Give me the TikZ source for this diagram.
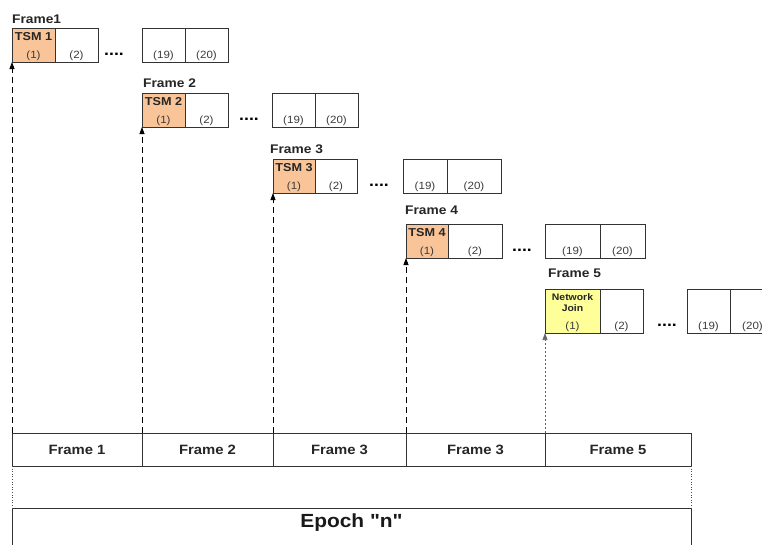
\documentclass[tikz,border=0pt]{standalone}
\usepackage{fontspec}
\setmainfont[FakeStretch=1.1]{Liberation Sans}
\newfontfamily\epochfont[FakeStretch=1.1, Ligatures=TeXOff]{Liberation Sans}
\usetikzlibrary{arrows.meta}
\definecolor{tsm}{RGB}{249,196,152}
\definecolor{join}{RGB}{255,255,153}
\definecolor{numgrey}{RGB}{60,60,60}
\begin{document}
\begin{tikzpicture}[x=1pt,y=-1pt,
  cell/.style={draw=black!80, line width=0.8pt, inner sep=0pt, outer sep=0pt, minimum height=34pt, anchor=north west},
  tallcell/.style={cell, minimum height=44pt},
  num/.style={font=\fontsize{10.5}{11}\selectfont, text=numgrey, inner sep=0pt, anchor=base},
  tsmlab/.style={font=\bfseries\fontsize{11.5}{12}\selectfont, text=black!85, inner sep=0pt, anchor=north},
  joinlab/.style={font=\bfseries\fontsize{9.5}{11.5}\selectfont, text=black!85, inner sep=0pt, anchor=north, align=center},
  flab/.style={font=\bfseries\fontsize{12.5}{13}\selectfont, text=black!85, inner sep=0pt, anchor=base west},
  dotsep/.style={font=\bfseries\fontsize{16}{16}\selectfont, inner sep=0pt, anchor=base},
  barcell/.style={draw=black!80, line width=0.8pt, inner sep=0pt, outer sep=0pt, minimum height=33pt, anchor=north west,
    font=\bfseries\fontsize{13.5}{14}\selectfont, text=black!85},
  uparrow/.style={line width=0.8pt, dash pattern=on 6pt off 4pt, -{Triangle[length=7pt,width=5pt]}},
  uparrowlight/.style={line width=0.6pt, draw=black!60, dash pattern=on 2pt off 2pt, -{Triangle[length=7pt,width=5pt]}}
]
\clip (0,0) rectangle (762,544);
\fill[white] (0,0) rectangle (762,544);

% ---- Frame 1 ----
\node[flab] (l1) at (12,23) {Frame1};
\node[cell, fill=tsm, minimum width=43pt] (r1a) at (12,28) {};
\node[cell, minimum width=43pt] (r1b) at (r1a.north east) {};
\node[dotsep] (r1d) at (114,55) {....};
\node[cell, minimum width=43pt] (r1s) at (142,28) {};
\node[cell, minimum width=43pt] (r1t) at (r1s.north east) {};
\node[tsmlab] at ([yshift=-4pt]r1a.north) {TSM 1};
\node[num] at ([yshift=4pt]r1a.south) {(1)};
\node[num] at ([yshift=4pt]r1b.south) {(2)};
\node[num] at ([yshift=4pt]r1s.south) {(19)};
\node[num] at ([yshift=4pt]r1t.south) {(20)};

% ---- Frame 2 ----
\node[flab] (l2) at (143,87) {Frame 2};
\node[cell, fill=tsm, minimum width=43pt] (r2a) at (142,93) {};
\node[cell, minimum width=43pt] (r2b) at (r2a.north east) {};
\node[dotsep] (r2d) at (249,120) {....};
\node[cell, minimum width=43pt] (r2s) at (272,93) {};
\node[cell, minimum width=43pt] (r2t) at (r2s.north east) {};
\node[tsmlab] at ([yshift=-4pt]r2a.north) {TSM 2};
\node[num] at ([yshift=4pt]r2a.south) {(1)};
\node[num] at ([yshift=4pt]r2b.south) {(2)};
\node[num] at ([yshift=4pt]r2s.south) {(19)};
\node[num] at ([yshift=4pt]r2t.south) {(20)};

% ---- Frame 3 ----
\node[flab] (l3) at (270,153) {Frame 3};
\node[cell, fill=tsm, minimum width=42pt] (r3a) at (273,159) {};
\node[cell, minimum width=42pt] (r3b) at (r3a.north east) {};
\node[dotsep] (r3d) at (379,186) {....};
\node[cell, minimum width=44pt] (r3s) at (403,159) {};
\node[cell, minimum width=54pt] (r3t) at (r3s.north east) {};
\node[tsmlab] at ([yshift=-4pt]r3a.north) {TSM 3};
\node[num] at ([yshift=4pt]r3a.south) {(1)};
\node[num] at ([yshift=4pt]r3b.south) {(2)};
\node[num] at ([yshift=4pt]r3s.south) {(19)};
\node[num] at ([yshift=4pt]r3t.south) {(20)};

% ---- Frame 4 ----
\node[flab] (l4) at (405,214) {Frame 4};
\node[cell, fill=tsm, minimum width=42pt] (r4a) at (406,224) {};
\node[cell, minimum width=54pt] (r4b) at (r4a.north east) {};
\node[dotsep] (r4d) at (522,251) {....};
\node[cell, minimum width=55pt] (r4s) at (545,224) {};
\node[cell, minimum width=45pt] (r4t) at (r4s.north east) {};
\node[tsmlab] at ([yshift=-4pt]r4a.north) {TSM 4};
\node[num] at ([yshift=4pt]r4a.south) {(1)};
\node[num] at ([yshift=4pt]r4b.south) {(2)};
\node[num] at ([yshift=4pt]r4s.south) {(19)};
\node[num] at ([yshift=4pt]r4t.south) {(20)};

% ---- Frame 5 ----
\node[flab] (l5) at (548,277) {Frame 5};
\node[tallcell, fill=join, minimum width=55pt] (r5a) at (545,289) {};
\node[tallcell, minimum width=43pt] (r5b) at (r5a.north east) {};
\node[dotsep] (r5d) at (667,326) {....};
\node[tallcell, minimum width=43pt] (r5s) at (687,289) {};
\node[tallcell, minimum width=45pt] (r5t) at (r5s.north east) {};
\node[joinlab] at ([yshift=-4pt]r5a.north) {Network\\Join};
\node[num] at ([yshift=4pt]r5a.south) {(1)};
\node[num] at ([yshift=4pt]r5b.south) {(2)};
\node[num] at ([yshift=4pt]r5s.south) {(19)};
\node[num] at ([yshift=4pt]r5t.south) {(20)};

% ---- Epoch bar ----
\node[barcell, minimum width=130pt] (b1) at (12,433) {Frame 1};
\node[barcell, minimum width=131pt] (b2) at (b1.north east) {Frame 2};
\node[barcell, minimum width=133pt] (b3) at (b2.north east) {Frame 3};
\node[barcell, minimum width=139pt] (b4) at (b3.north east) {Frame 3};
\node[barcell, minimum width=146pt] (b5) at (b4.north east) {Frame 5};

\node[draw=black!80, line width=0.8pt, anchor=north west, inner sep=0pt, outer sep=0pt,
      minimum width=679pt, minimum height=60pt] (ep) at (12,508) {};
\node[font=\epochfont\bfseries\fontsize{19}{20}\selectfont, text=black!90, anchor=north, inner sep=0pt]
  at ([yshift=-6pt]ep.north) {Epoch "n"};

\draw[line width=0.6pt, black!70, dotted] (b1.south west) -- (ep.north west);
\draw[line width=0.6pt, black!70, dotted] (b5.south east) -- (ep.north east);

% ---- frame start markers ----
\draw[uparrow] (b1.north west) -- (r1a.south west);
\draw[uparrow] (b2.north west) -- (r2a.south west);
\draw[uparrow] (b3.north west) -- (r3a.south west);
\draw[uparrow] (b4.north west) -- (r4a.south west);
\draw[uparrowlight] (b5.north west) -- (r5a.south west);
\end{tikzpicture}
\end{document}
